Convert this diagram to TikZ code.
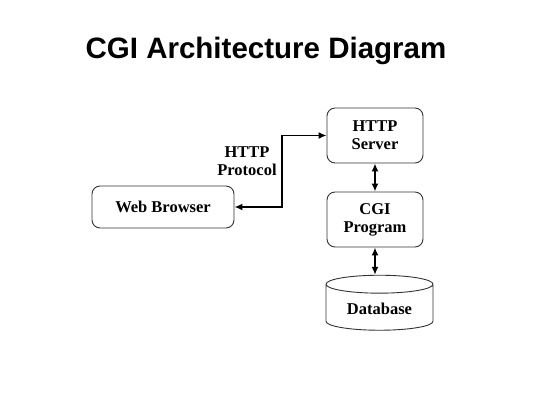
\documentclass[tikz,border=0pt]{standalone}
\usepackage{fontspec}
\setmainfont{Liberation Serif}
\newfontfamily\titlefont{Liberation Sans}
\usetikzlibrary{arrows.meta,shapes.geometric}
\tikzset{
  box/.style={draw=black!80, line width=0.9pt, rounded corners=8pt, align=center,
    font=\bfseries\fontsize{16.5}{18}\selectfont},
  link/.style={line width=1.8pt, {Latex[length=8pt,width=7pt]}-{Latex[length=8pt,width=7pt]}}
}
\begin{document}
\begin{tikzpicture}[x=1pt,y=-1pt]
  \useasboundingbox (0,0) rectangle (533,400);
  \node[font=\titlefont\bfseries\fontsize{29.5}{32}\selectfont] (title) at (266,51) {CGI Architecture Diagram};
  \node[box, minimum width=142pt, minimum height=42pt] (browser) at (163,207) {Web Browser};
  \node[box, minimum width=96pt, minimum height=55pt] (server) at (375,135.5) {HTTP\\Server};
  \node[box, minimum width=96pt, minimum height=55pt] (cgi) at (375,219.5) {CGI\\Program};
  \node[cylinder, shape border rotate=90, aspect=0.25, draw=black!80, line width=0.9pt,
    minimum width=107pt, minimum height=55pt, font=\bfseries\fontsize{16.5}{18}\selectfont] (db) at (379.5,309) {Database};
  \node[align=center, font=\bfseries\fontsize{16.5}{18}\selectfont] (proto) at (247,161) {HTTP\\Protocol};
  \coordinate (turn) at (282,0);
  % connectors
  \draw[link] (browser.east) -| (turn |- server.west) -- (server.west);
  \draw[link] (server.south) -- (cgi.north);
  \draw[link] (cgi.south) -- (cgi.south |- db.top);
\end{tikzpicture}
\end{document}
